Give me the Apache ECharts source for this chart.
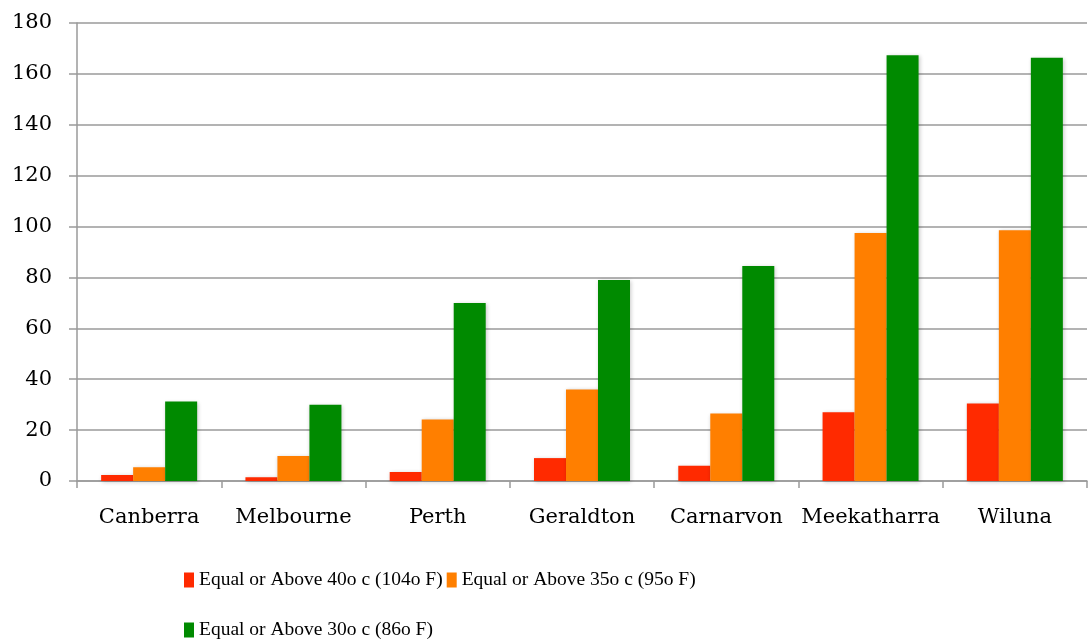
<!DOCTYPE html>
<html>
<head>
<meta charset="utf-8">
<script src="https://cdn.jsdelivr.net/npm/echarts@6/dist/echarts.min.js"></script>
<style>
  html, body { margin: 0; padding: 0; background: #fff; }
  #chart { width: 1089px; height: 643px; }
</style>
</head>
<body>
<div id="chart"></div>
<script>
// Days per year at or above each temperature threshold, by town
const categories = ['Canberra', 'Melbourne', 'Perth', 'Geraldton', 'Carnarvon', 'Meekatharra', 'Wiluna'];
const seriesNames = ['Equal or Above 40o c (104o F)', 'Equal or Above 35o c (95o F)', 'Equal or Above 30o c (86o F)'];
const above40 = [2.4, 1.5, 3.5, 9, 6, 27, 30.5];
const above35 = [5.4, 9.8, 24.2, 36, 26.5, 97.5, 98.5];
const above30 = [31.2, 30, 70, 79, 84.5, 167.3, 166.3];
const colors = ['#FF2A00', '#FF7F00', '#008A00'];
const yTicks = { min: 0, max: 180, interval: 20 };

const axisFont = { fontFamily: 'DejaVu Serif', fontSize: 21, color: '#000' };
const legendFont = { fontFamily: 'Liberation Serif', fontSize: 19.5, color: '#000' };
const gray = '#9a9a9a';

const values = [above40, above35, above30];
const series = values.map((data, i) => ({
  name: seriesNames[i],
  type: 'bar',
  data: data,
  barWidth: 32,
  barGap: '0%',
  itemStyle: {
    color: colors[i],
    shadowColor: 'rgba(0,0,0,0.22)',
    shadowBlur: 4,
    shadowOffsetX: 1,
    shadowOffsetY: 1
  }
}));

const chart = echarts.init(document.getElementById('chart'), null, { renderer: 'canvas' });
chart.setOption({
  animation: false,
  backgroundColor: '#fff',
  color: colors,
  grid: { left: 77, top: 23, right: 2, bottom: 162, containLabel: false },
  legend: [
    {
      data: seriesNames.slice(0, 2),
      left: 179, top: 565,
      itemWidth: 10, itemHeight: 15, itemGap: 4,
      icon: 'rect',
      textStyle: legendFont
    },
    {
      data: seriesNames.slice(2),
      left: 179, top: 615,
      itemWidth: 10, itemHeight: 15,
      icon: 'rect',
      textStyle: legendFont
    }
  ],
  xAxis: {
    type: 'category',
    data: categories,
    boundaryGap: true,
    axisLine: { show: true, lineStyle: { color: gray, width: 1.5 } },
    axisTick: { show: true, length: 7, alignWithLabel: false, lineStyle: { color: gray, width: 1.5 } },
    axisLabel: Object.assign({ margin: 26, interval: 0 }, axisFont)
  },
  yAxis: {
    type: 'value',
    min: yTicks.min, max: yTicks.max, interval: yTicks.interval,
    axisLine: { show: true, lineStyle: { color: gray, width: 1.5 } },
    axisTick: { show: true, length: 8, lineStyle: { color: gray, width: 1.5 } },
    axisLabel: Object.assign({ margin: 25 }, axisFont),
    splitLine: { show: true, lineStyle: { color: gray, width: 1.5 } }
  },
  series: series
});
</script>
</body>
</html>
